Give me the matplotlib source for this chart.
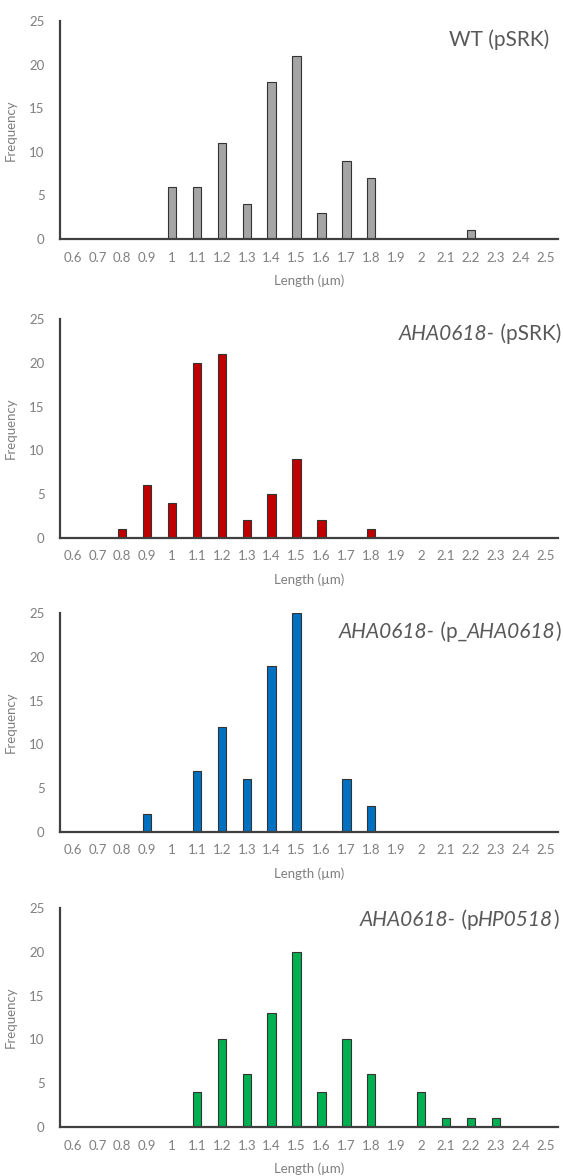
import matplotlib

matplotlib.use("Agg")
import matplotlib.pyplot as plt

plt.rcParams["font.family"] = ["Lato", "DejaVu Sans"]

lengths = ["0.6", "0.7", "0.8", "0.9", "1", "1.1", "1.2", "1.3", "1.4", "1.5",
           "1.6", "1.7", "1.8", "1.9", "2", "2.1", "2.2", "2.3", "2.4", "2.5"]

wt_psrk = [0, 0, 0, 0, 6, 6, 11, 4, 18, 21, 3, 9, 7, 0, 0, 0, 1, 0, 0, 0]
aha_psrk = [0, 0, 1, 6, 4, 20, 21, 2, 5, 9, 2, 0, 1, 0, 0, 0, 0, 0, 0, 0]
aha_paha = [0, 0, 0, 2, 0, 7, 12, 6, 19, 25, 0, 6, 3, 0, 0, 0, 0, 0, 0, 0]
aha_php = [0, 0, 0, 0, 0, 4, 10, 6, 13, 20, 4, 10, 6, 0, 4, 1, 1, 1, 0, 0]

# title pieces: (text, italic)
titles = [
    [("WT (pSRK)", False)],
    [("AHA0618-", True), (" (pSRK)", False)],
    [("AHA0618-", True), (" (p_", False), ("AHA0618", True), (")", False)],
    [("AHA0618-", True), (" (p", False), ("HP0518", True), (")", False)],
]
series = [wt_psrk, aha_psrk, aha_paha, aha_php]
colors = ["#a5a5a5", "#c00000", "#0070c0", "#00b050"]

TEXT_GREY = "#7f7f7f"
TITLE_GREY = "#595959"
AXIS_COL = "#404040"

W, H = 563, 1176
fig = plt.figure(figsize=(W / 100, H / 100), dpi=100)

# (zero line y, top y, title y) in pixels from top
panel_px = [(239, 21, 40), (538, 319, 334), (832, 613, 632), (1127, 908, 920)]
title_right = [549, 561, 561, 559]
left_px, right_px = 60, 558

for i, (vals, color) in enumerate(zip(series, colors)):
    zero_y, top_y, title_y = panel_px[i]
    ax = fig.add_axes([left_px / W, 1 - zero_y / H,
                       (right_px - left_px) / W, (zero_y - top_y) / H])
    x = range(len(lengths))
    ax.bar(x, vals, width=0.34, color=color, edgecolor="#333333", linewidth=0.8, zorder=2)
    ax.set_xlim(-0.5, len(lengths) - 0.5)
    ax.set_ylim(0, 25)
    ax.set_yticks([0, 5, 10, 15, 20, 25])
    ax.set_xticks(list(x))
    ax.set_xticklabels(lengths)
    ax.tick_params(length=0, labelsize=9.5, colors=TEXT_GREY, pad=9)
    ax.tick_params(axis="y", pad=11)
    for side in ["top", "right"]:
        ax.spines[side].set_visible(False)
    for side in ["left", "bottom"]:
        ax.spines[side].set_color(AXIS_COL)
        ax.spines[side].set_linewidth(1.6)
        ax.spines[side].set_zorder(3)
    ax.set_xlabel("Length (µm)", fontsize=9.5, color=TEXT_GREY, labelpad=8)
    ax.set_ylabel("Frequency", fontsize=9.5, color=TEXT_GREY, labelpad=9)

    # mixed italic/normal title, chained right to left
    last = None
    for text, italic in reversed(titles[i]):
        style = "italic" if italic else "normal"
        if last is None:
            last = ax.annotate(text, xy=(title_right[i] / W, 1 - title_y / H),
                               xycoords="figure fraction", ha="right", va="center",
                               fontsize=15, color=TITLE_GREY, style=style,
                               annotation_clip=False)
        else:
            last = ax.annotate(text, xy=(0, 0), xycoords=last, ha="right", va="bottom",
                               fontsize=15, color=TITLE_GREY, style=style,
                               annotation_clip=False)

fig.savefig("out.png", dpi=100)
